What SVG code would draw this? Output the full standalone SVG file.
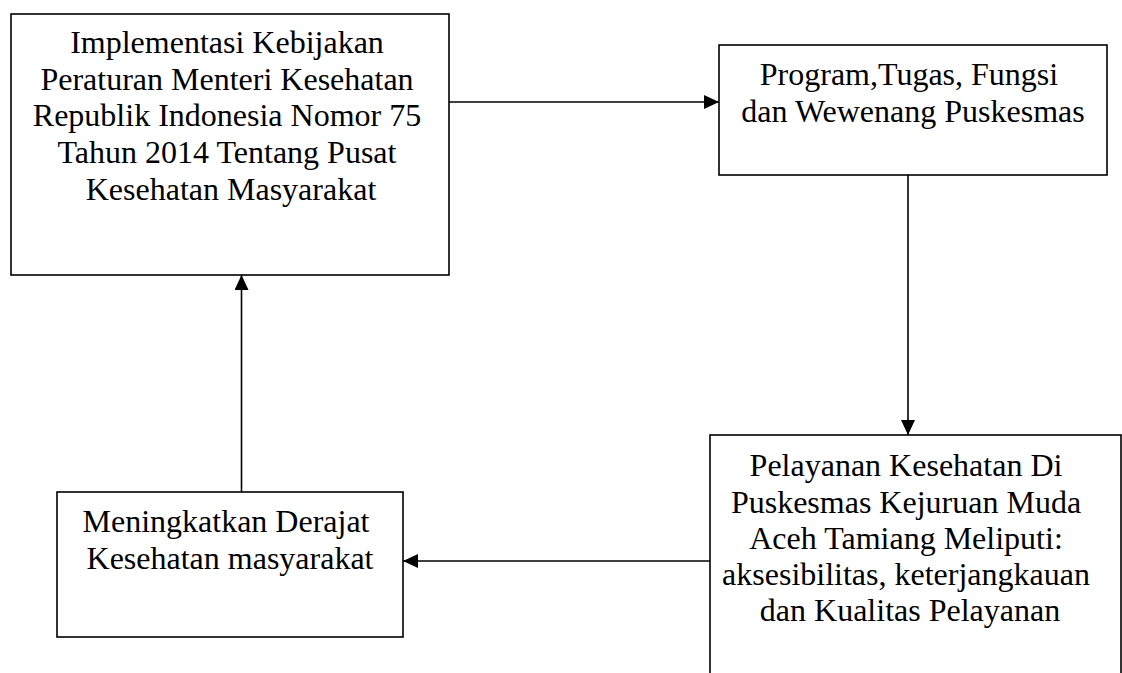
<svg xmlns="http://www.w3.org/2000/svg" width="1122" height="673" viewBox="0 0 1122 673">
  <style>
    .box { fill: #ffffff; stroke: #000000; stroke-width: 1.6; }
    .lbl { font-family: "Liberation Serif", "Times New Roman", serif; font-size: 32px; fill: #000000; text-anchor: middle; }
    .conn { stroke: #000000; stroke-width: 1.6; fill: none; marker-end: url(#arrow); }
  </style>
  <defs>
    <marker id="arrow" markerUnits="userSpaceOnUse" markerWidth="16" markerHeight="14" refX="15" refY="7" orient="auto">
      <path d="M0,0 L15,7 L0,14 Z" fill="#000000"/>
    </marker>
  </defs>
  <rect width="1122" height="673" fill="#ffffff"/>

  <g id="node-kebijakan">
    <rect class="box" x="11" y="14" width="438" height="261"/>
    <text class="lbl">
      <tspan x="231" y="53">Implementasi Kebijakan</tspan>
      <tspan x="231" y="90">Peraturan Menteri Kesehatan</tspan>
      <tspan x="231" y="126">Republik Indonesia Nomor 75</tspan>
      <tspan x="231" y="163">Tahun 2014 Tentang Pusat</tspan>
      <tspan x="231" y="200">Kesehatan Masyarakat</tspan>
    </text>
  </g>

  <g id="node-program">
    <rect class="box" x="719" y="45" width="388" height="130"/>
    <text class="lbl">
      <tspan x="913" y="85">Program,Tugas, Fungsi</tspan>
      <tspan x="913" y="122">dan Wewenang Puskesmas</tspan>
    </text>
  </g>

  <g id="node-pelayanan">
    <rect class="box" x="710" y="435" width="411" height="250"/>
    <text class="lbl">
      <tspan x="910" y="476">Pelayanan Kesehatan Di</tspan>
      <tspan x="910" y="513">Puskesmas Kejuruan Muda</tspan>
      <tspan x="910" y="549">Aceh Tamiang Meliputi:</tspan>
      <tspan x="910" y="585">aksesibilitas, keterjangkauan</tspan>
      <tspan x="910" y="621">dan Kualitas Pelayanan</tspan>
    </text>
  </g>

  <g id="node-derajat">
    <rect class="box" x="57" y="492" width="346" height="145"/>
    <text class="lbl">
      <tspan x="230" y="532">Meningkatkan Derajat</tspan>
      <tspan x="230" y="569">Kesehatan masyarakat</tspan>
    </text>
  </g>

  <g id="connectors">
    <line class="conn" x1="449" y1="102" x2="719" y2="102"/>
    <line class="conn" x1="908" y1="175" x2="908" y2="435"/>
    <line class="conn" x1="710" y1="561" x2="403" y2="561"/>
    <line class="conn" x1="241.5" y1="492" x2="241.5" y2="275"/>
  </g>
</svg>
